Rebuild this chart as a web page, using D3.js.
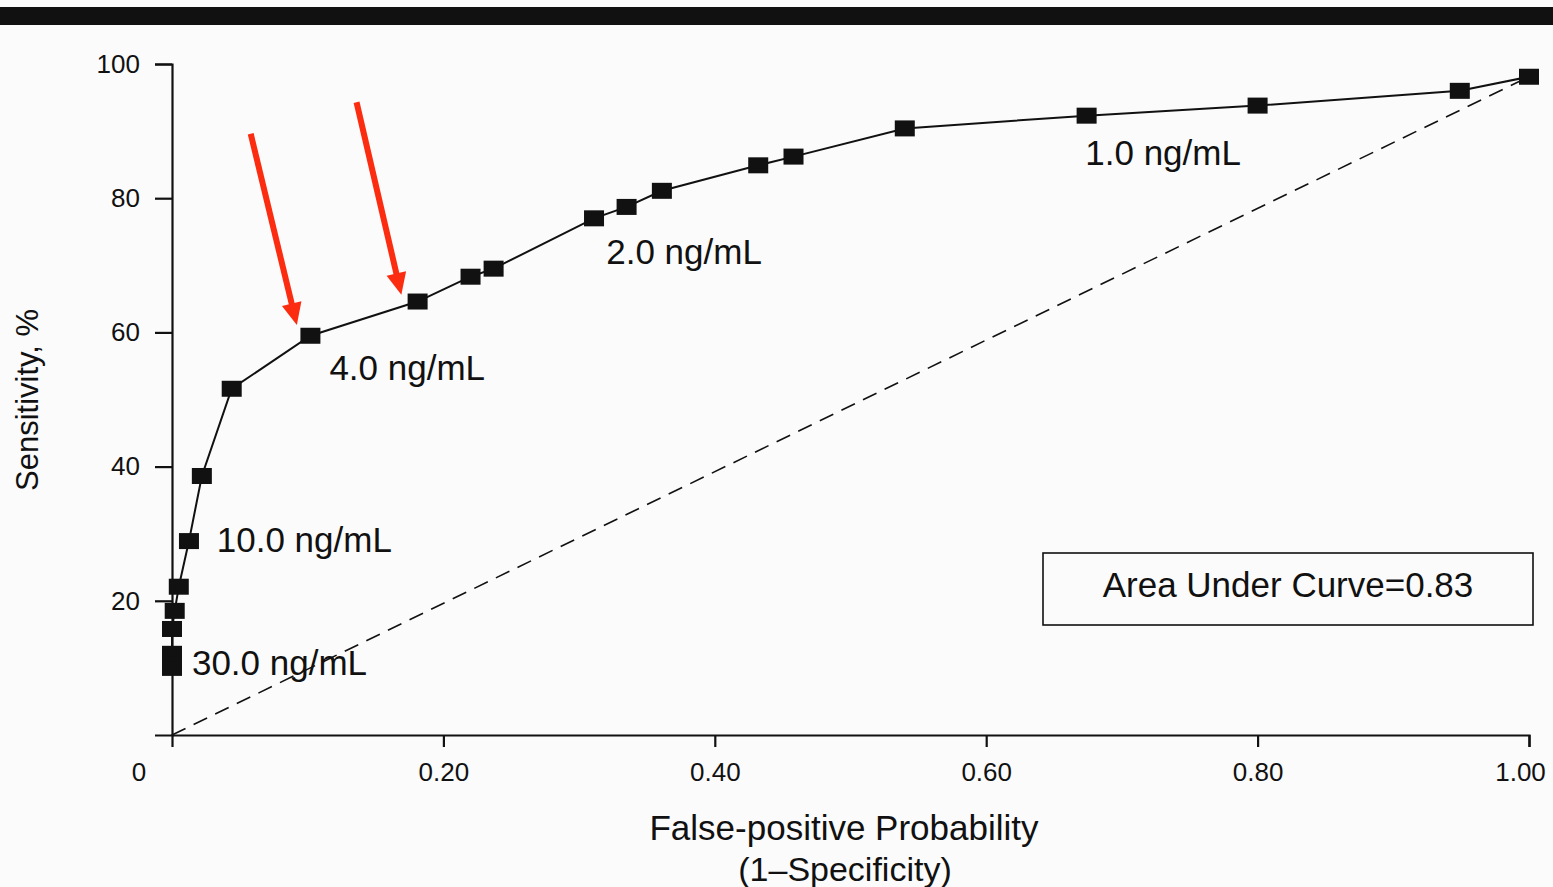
<!DOCTYPE html>
<html>
<head>
<meta charset="utf-8">
<script src="https://cdn.jsdelivr.net/npm/d3@7"></script>
<style>
  html, body { margin: 0; padding: 0; background: #fbfbfb; }
  svg { display: block; font-family: "Liberation Sans", Arial, Helvetica, sans-serif; }
  .axis path, .axis line { stroke: #111; stroke-width: 2.2; }
  .axis text { fill: #111; font-size: 26px; }
</style>
</head>
<body>
<div id="chart"></div>
<script>
// ROC curve points: false-positive probability and sensitivity (%)
const fpr = [0.000, 0.000, 0.000, 0.002, 0.005, 0.0125, 0.022, 0.044, 0.102, 0.181,
             0.220, 0.237, 0.311, 0.335, 0.361, 0.432, 0.458, 0.540, 0.674, 0.800, 0.949, 1.000];
const sensitivity = [10.0, 12.1, 15.8, 18.5, 22.1, 28.9, 38.6, 51.6, 59.5, 64.6,
                     68.3, 69.5, 77.0, 78.7, 81.1, 84.9, 86.2, 90.4, 92.3, 93.8, 96.0, 98.1];

// PSA cutoff labels, anchored in data units
const cutoffLabels = ["1.0 ng/mL", "2.0 ng/mL", "4.0 ng/mL", "10.0 ng/mL", "30.0 ng/mL"];
const cutoffLabelFpr = [0.673, 0.320, 0.116, 0.033, 0.0147];
const cutoffLabelSens = [84.9, 70.2, 52.9, 27.3, 8.9];

// red arrows (start -> tip) in data units
const arrowFrom = [[0.058, 89.6], [0.136, 94.3]];
const arrowTo = [[0.092, 61.1], [0.169, 65.6]];

const xTicks = [0.2, 0.4, 0.6, 0.8, 1.0];
const yTicks = [20, 40, 60, 80, 100];
const aucText = "Area Under Curve=0.83";

const W = 1553, H = 887;
const svg = d3.select("#chart").append("svg")
    .attr("width", W).attr("height", H);

// scan border strip at the top
svg.append("rect").attr("x", 0).attr("y", 7).attr("width", W).attr("height", 18).attr("fill", "#111");

const x = d3.scaleLinear().domain([0, 1]).range([172, 1529]);
const y = d3.scaleLinear().domain([0, 100]).range([735, 64]);

// axes
const xAxis = svg.append("g")
    .attr("class", "axis")
    .attr("transform", "translate(0," + y(0) + ")")
    .call(d3.axisBottom(x).tickValues(xTicks).tickFormat(d3.format(".2f"))
        .tickSize(12).tickPadding(16));
// keep the last label inside the page
xAxis.selectAll(".tick text").filter(d => d === 1).attr("dx", -9);

svg.append("g")
    .attr("class", "axis")
    .attr("transform", "translate(" + x(0) + ",0)")
    .call(d3.axisLeft(y).tickValues(yTicks).tickFormat(d3.format("d"))
        .tickSize(17).tickPadding(15));

svg.selectAll(".axis .domain").attr("fill", "none");

// origin label
svg.append("text")
    .attr("x", 139).attr("y", 781)
    .attr("text-anchor", "middle")
    .attr("font-size", 26).attr("fill", "#111")
    .text("0");

// axis titles
svg.append("text")
    .attr("transform", "translate(38,400) rotate(-90)")
    .attr("text-anchor", "middle")
    .attr("font-size", 31).attr("fill", "#111")
    .text("Sensitivity, %");

svg.append("text")
    .attr("x", 844).attr("y", 840)
    .attr("text-anchor", "middle")
    .attr("font-size", 35).attr("fill", "#111")
    .text("False-positive Probability");

svg.append("text")
    .attr("x", 845).attr("y", 881)
    .attr("text-anchor", "middle")
    .attr("font-size", 34).attr("fill", "#111")
    .text("(1\u2013Specificity)");

const pts = fpr.map((f, i) => ({ f: f, s: sensitivity[i] }));

// chance diagonal
svg.append("line")
    .attr("x1", x(0)).attr("y1", y(0))
    .attr("x2", x(pts[pts.length - 1].f)).attr("y2", y(pts[pts.length - 1].s))
    .attr("stroke", "#111").attr("stroke-width", 1.6)
    .attr("stroke-dasharray", "15,9");

// ROC line
const line = d3.line().x(d => x(d.f)).y(d => y(d.s));
svg.append("path")
    .datum(pts)
    .attr("d", line)
    .attr("fill", "none")
    .attr("stroke", "#111")
    .attr("stroke-width", 2);

// square markers
svg.selectAll(".pt")
    .data(pts)
    .enter().append("rect")
    .attr("class", "pt")
    .attr("x", d => x(d.f) - 10)
    .attr("y", d => y(d.s) - 8)
    .attr("width", 20).attr("height", 16)
    .attr("fill", "#111");

// cutoff labels
svg.selectAll(".cut")
    .data(cutoffLabels)
    .enter().append("text")
    .attr("class", "cut")
    .attr("x", (d, i) => x(cutoffLabelFpr[i]))
    .attr("y", (d, i) => y(cutoffLabelSens[i]))
    .attr("font-size", 35).attr("fill", "#111")
    .text(d => d);

// red arrows: shaft plus a filled head
const red = "#fb2c10", headLen = 22, headHalf = 10;
arrowFrom.forEach((a, i) => {
    const x1 = x(a[0]), y1 = y(a[1]);
    const x2 = x(arrowTo[i][0]), y2 = y(arrowTo[i][1]);
    const len = Math.hypot(x2 - x1, y2 - y1);
    const ux = (x2 - x1) / len, uy = (y2 - y1) / len;
    const bx = x2 - ux * headLen, by = y2 - uy * headLen;
    svg.append("line")
        .attr("x1", x1).attr("y1", y1)
        .attr("x2", bx + ux * 2).attr("y2", by + uy * 2)
        .attr("stroke", red).attr("stroke-width", 6);
    svg.append("path")
        .attr("d", "M" + x2 + "," + y2 +
            "L" + (bx - uy * headHalf) + "," + (by + ux * headHalf) +
            "L" + (bx + uy * headHalf) + "," + (by - ux * headHalf) + "Z")
        .attr("fill", red);
});

// AUC box
svg.append("rect")
    .attr("x", 1043).attr("y", 553)
    .attr("width", 490).attr("height", 72)
    .attr("fill", "none").attr("stroke", "#111").attr("stroke-width", 1.6);
svg.append("text")
    .attr("x", 1288).attr("y", 597)
    .attr("text-anchor", "middle")
    .attr("font-size", 35).attr("fill", "#111")
    .text(aucText);
</script>
</body>
</html>
